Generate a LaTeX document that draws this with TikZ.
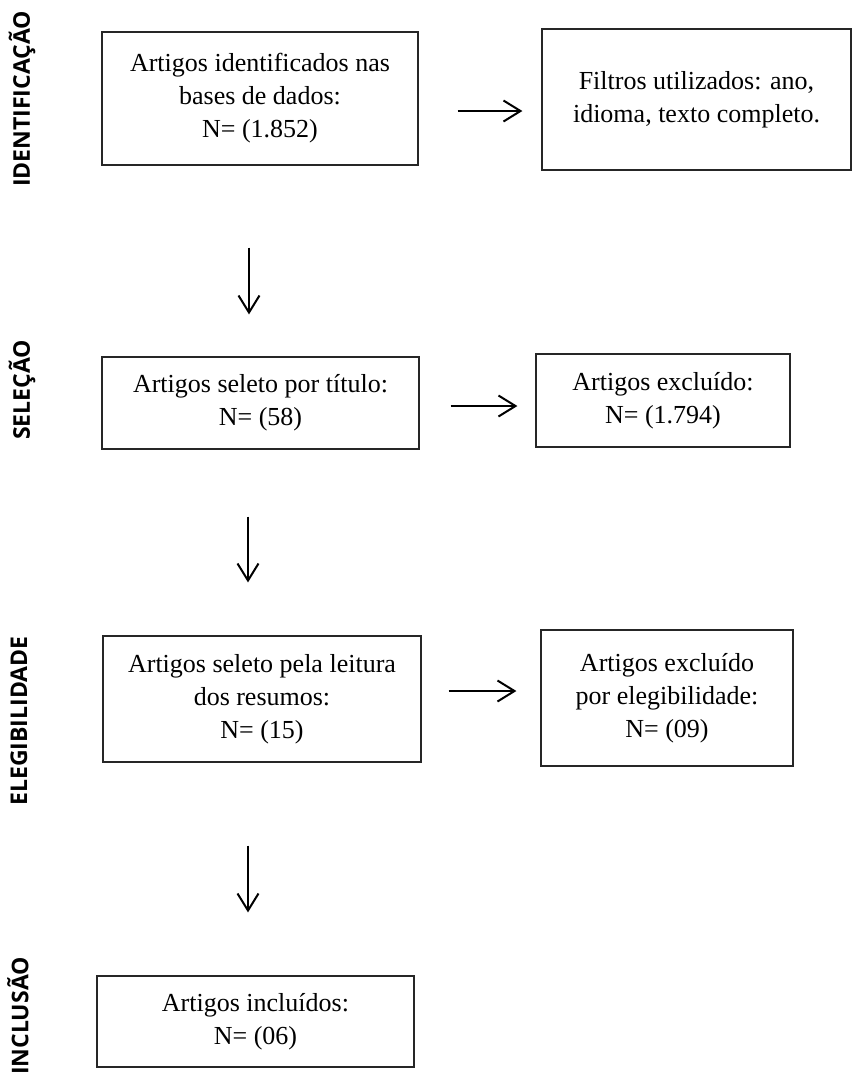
\documentclass[tikz,border=0pt]{standalone}
\usepackage{fontspec}
\setmainfont{Liberation Serif}
\newfontfamily\fasefont{Open Sans}[BoldFont={Open Sans Bold}]
\usetikzlibrary{arrows.meta}

\begin{document}
\begin{tikzpicture}[x=0.5pt,y=-0.5pt]

	\tikzstyle caixa=[draw=black!85, line width=0.6pt, align=center, inner sep=0pt, font=\fontsize{13}{16.5}\selectfont];
	\tikzstyle fase=[rotate=90, font=\fasefont\bfseries\fontsize{11.5}{13}\selectfont];
	\tikzstyle seta=[line width=1pt, -{Straight Barb[length=8.5pt,width=10.5pt]}];

	\useasboundingbox (0,0) rectangle (853,1078);

	% identificacao
	\node[fase] (fid) at (22,99) {IDENTIFICAÇÃO};
	\node[caixa, minimum width=158pt, minimum height=66.5pt] (ident) at (260,98.5) {Artigos identificados nas\\bases de dados:\\N= (1.852)};
	\node[caixa, minimum width=154.5pt, minimum height=70.5pt] (filt) at (696.5,99.5) {Filtros utilizados: ano,\\idioma, texto completo.};
	\draw[seta] ([shift={(39,12.5)}]ident.east) -- ([shift={(-19,11.5)}]filt.west);

	% selecao
	\node[fase] (fsel) at (22,390) {SELEÇÃO};
	\node[caixa, minimum width=158.5pt, minimum height=46pt] (sel) at (260.5,403) {Artigos seleto por título:\\N= (58)};
	\node[caixa, minimum width=127pt, minimum height=46.5pt] (exc1) at (663,400.5) {Artigos excluído:\\N= (1.794)};
	\draw[seta] ([shift={(-11,82)}]ident.south) -- ([shift={(-11.5,-42)}]sel.north);
	\draw[seta] ([shift={(31,3)}]sel.east) -- ([shift={(-18,5.5)}]exc1.west);

	% elegibilidade
	\node[fase] (feleg) at (19,721) {ELEGIBILIDADE};
	\node[caixa, minimum width=159pt, minimum height=63pt] (eleg) at (262,699) {Artigos seleto pela leitura\\dos resumos:\\N= (15)};
	\node[caixa, minimum width=126pt, minimum height=68pt] (exc2) at (667,698) {Artigos excluído\\por elegibilidade:\\N= (09)};
	\draw[seta] ([shift={(-12.5,67)}]sel.south) -- ([shift={(-14,-53)}]eleg.north);
	\draw[seta] ([shift={(27,-8)}]eleg.east) -- ([shift={(-24,-7)}]exc2.west);

	% inclusao
	\node[fase] (fincl) at (18,1016) {INCLUSÃO};
	\node[caixa, minimum width=158.5pt, minimum height=45.5pt] (incl) at (255.5,1021.5) {Artigos incluídos:\\N= (06)};
	\draw[seta] ([shift={(-14,83)}]eleg.south) -- ([shift={(-7.5,-63)}]incl.north);

\end{tikzpicture}
\end{document}
